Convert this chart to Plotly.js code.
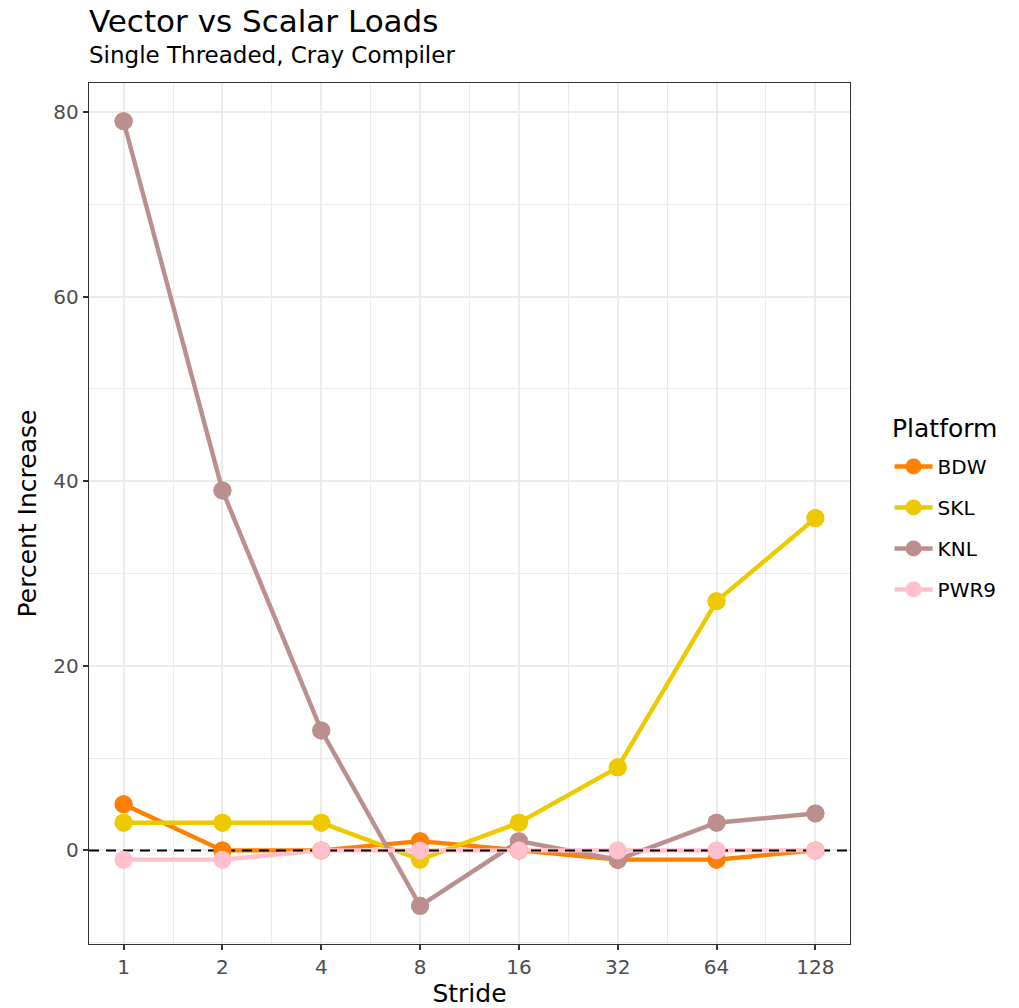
<!DOCTYPE html>
<html>
<head>
<meta charset="utf-8">
<script src="https://cdn.plot.ly/plotly-3.0.1.min.js"></script>
<style>html,body{margin:0;padding:0;background:#fff;}#chart{width:1019px;height:1008px;}</style>
</head>
<body>
<div id="chart"></div>
<script>
// ---- data ----
const strides = [1, 2, 4, 8, 16, 32, 64, 128];
const strideLabels = ["1", "2", "4", "8", "16", "32", "64", "128"];
const platforms = ["BDW", "SKL", "KNL", "PWR9"];
const bdw  = [5, 0, 0, 1, 0, -1, -1, 0];
const skl  = [3, 3, 3, -1, 3, 9, 27, 36];
const knl  = [79, 39, 13, -6, 1, -1, 3, 4];
const pwr9 = [-1, -1, 0, 0, 0, 0, 0, 0];
const referenceLevel = 0;

// ---- styles ----
const colors = {BDW: "#FF7F00", SKL: "#EEC900", KNL: "#BC8F8F", PWR9: "#FFC0CB"};
const seriesValues = {BDW: bdw, SKL: skl, KNL: knl, PWR9: pwr9};
const FONT = "DejaVu Sans, Arial, sans-serif";

const xPos = strides.map(s => Math.log2(s));
const xRange = [-0.35, 7.35];
const yRange = [-10.14, 83.14];

const traces = [];
platforms.forEach(p => {
  traces.push({
    x: xPos, y: seriesValues[p], name: p, type: "scatter", mode: "lines+markers",
    line: {color: colors[p], width: 4.4},
    marker: {color: colors[p], size: 18},
    legendgroup: p, hoverinfo: "skip"
  });
});
traces.push({
  x: xRange, y: [referenceLevel, referenceLevel], type: "scatter", mode: "lines",
  line: {color: "#000000", width: 2, dash: "10px,7px"},
  showlegend: false, hoverinfo: "skip"
});
platforms.forEach(p => {
  traces.push({
    x: xPos, y: seriesValues[p], type: "scatter", mode: "markers",
    marker: {color: colors[p], size: 18},
    showlegend: false, legendgroup: p, hoverinfo: "skip"
  });
});

const layout = {
  width: 1019, height: 1008,
  margin: {l: 89, r: 169, t: 83, b: 64, pad: 0},
  paper_bgcolor: "#ffffff", plot_bgcolor: "#ffffff",
  font: {family: FONT, color: "#000000"},
  showlegend: true,
  xaxis: {
    range: xRange, tickmode: "array", tickvals: xPos, ticktext: strideLabels,
    showgrid: true, gridcolor: "#EBEBEB", gridwidth: 2, zeroline: false,
    minor: {tickmode: "linear", tick0: 0.5, dtick: 1, showgrid: true, gridcolor: "#EBEBEB", gridwidth: 1, ticks: ""},
    ticks: "outside", ticklen: 5, tickwidth: 2, tickcolor: "#333333",
    tickfont: {family: FONT, size: 20, color: "#4D4D4D"},
    showline: true, linecolor: "#333333", linewidth: 1.3, mirror: true,
    title: {text: "Stride", font: {family: FONT, size: 25, color: "#000000"}, standoff: 6}
  },
  yaxis: {
    range: yRange, tickmode: "array", tickvals: [0, 20, 40, 60, 80],
    showgrid: true, gridcolor: "#EBEBEB", gridwidth: 2, zeroline: false,
    minor: {tickmode: "linear", tick0: -10, dtick: 20, showgrid: true, gridcolor: "#EBEBEB", gridwidth: 1, ticks: ""},
    ticks: "outside", ticklen: 5, tickwidth: 2, tickcolor: "#333333",
    tickfont: {family: FONT, size: 20, color: "#4D4D4D"},
    showline: true, linecolor: "#333333", linewidth: 1.3, mirror: true,
    title: {text: "Percent Increase", font: {family: FONT, size: 25, color: "#000000"}, standoff: 9}
  },
  legend: {
    x: 1.052, xanchor: "left", y: 0.5773, yanchor: "top",
    font: {family: FONT, size: 20, color: "#000000"},
    traceorder: "grouped", tracegroupgap: 12, itemwidth: 38,
    bgcolor: "rgba(0,0,0,0)", borderwidth: 0
  },
  annotations: [
    {text: "Vector vs Scalar Loads", xref: "paper", yref: "paper", x: 0, y: 1.072,
     xanchor: "left", yanchor: "middle", showarrow: false, xshift: -2,
     font: {family: FONT, size: 31, color: "#000000"}},
    {text: "Single Threaded, Cray Compiler", xref: "paper", yref: "paper", x: 0, y: 1.0325,
     xanchor: "left", yanchor: "middle", showarrow: false, xshift: -2,
     font: {family: FONT, size: 23, color: "#000000"}},
    {text: "Platform", xref: "paper", yref: "paper", x: 1.055, y: (944 - 428) / 861,
     xanchor: "left", yanchor: "middle", showarrow: false, xshift: -2,
     font: {family: FONT, size: 25, color: "#000000"}}
  ]
};

Plotly.newPlot("chart", traces, layout, {displayModeBar: false, staticPlot: true});
</script>
</body>
</html>
